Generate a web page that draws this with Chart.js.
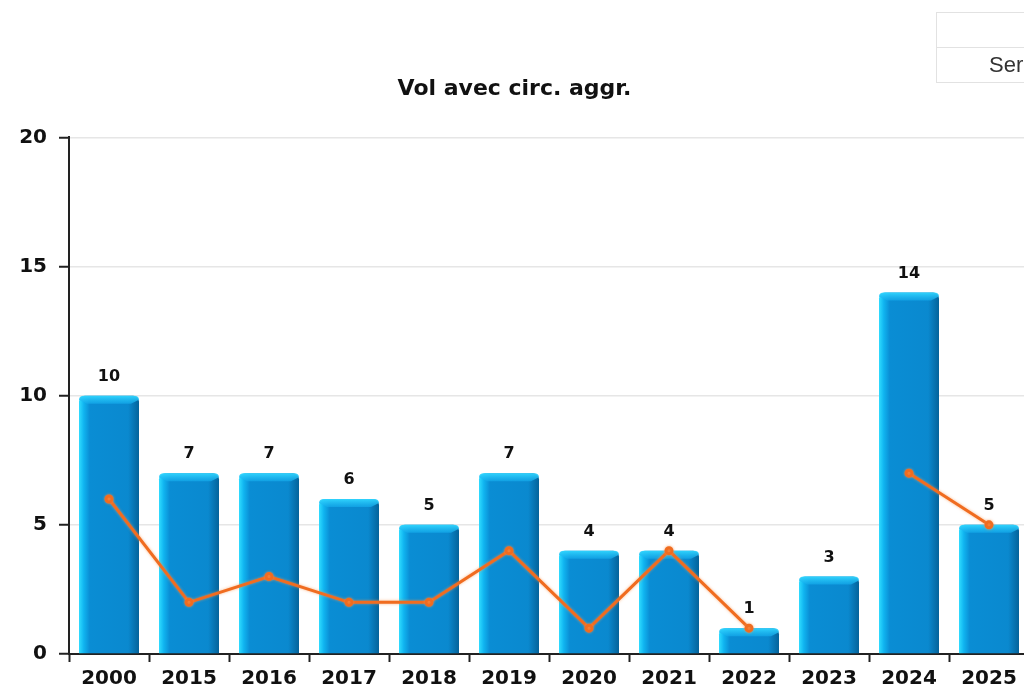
<!DOCTYPE html>
<html>
<head>
<meta charset="utf-8">
<script src="https://cdn.jsdelivr.net/npm/chart.js@4.4.1/dist/chart.umd.min.js"></script>
<style>
  body { margin:0; overflow:hidden; background:#fff; width:1024px; height:690px; }
  #wrap { position:absolute; left:0; top:0; width:1040px; height:700px; }
  #legende { position:absolute; left:936px; top:12px; width:200px; border:1px solid #e2e2e2; font-family:"Liberation Sans", Arial, sans-serif; font-size:22px; color:#333; }
  #legende div { height:34px; }
  #legende .serie { border-top:1px solid #e2e2e2; line-height:34px; padding-left:52px; }
</style>
</head>
<body>
<div id="wrap"><canvas id="graphVol"></canvas></div>
<div id="legende"><div></div><div class="serie">Series</div></div>
<script>
// ---- donnees
const annees = ["2000","2015","2016","2017","2018","2019","2020","2021","2022","2023","2024","2025"];
const totalVols = [10,7,7,6,5,7,4,4,1,3,14,5];
const volsAggr = [6,2,3,2,2,4,1,4,1,null,7,5];
const ticksY = [0,5,10,15,20];

const police = "'DejaVu Sans', sans-serif";

// degrade horizontal par barre
function degradeBarre(ctx) {
    const chart = ctx.chart;
    const area = chart.chartArea;
    if (!area) return "#0a8fd6";
    const x = chart.scales.x.getPixelForValue(ctx.dataIndex);
    const w = (area.right - area.left) / annees.length * 0.75;
    const g = chart.ctx.createLinearGradient(x - w/2, 0, x + w/2, 0);
    g.addColorStop(0, "#30dcff");
    g.addColorStop(0.08, "#10b4f0");
    g.addColorStop(0.18, "#0a8dd4");
    g.addColorStop(0.82, "#0a89cf");
    g.addColorStop(1, "#04639a");
    return g;
}

// biseau en haut des barres + etiquettes
const pluginBarres = {
    id: "barres",
    afterDatasetDraw(chart, args) {
        if (args.index !== 0) return;
        const ctx = chart.ctx;
        args.meta.data.forEach(function(el) {
            const l = el.x - el.width/2, r = el.x + el.width/2, t = el.y;
            const b = Math.min(8, (el.base - el.y) / 2);
            ctx.save();
            ctx.beginPath();
            ctx.moveTo(l + 5, t);
            ctx.lineTo(r - 5, t);
            ctx.quadraticCurveTo(r, t, r, t + 4);
            ctx.lineTo(r - 8, t + b);
            ctx.lineTo(l + 8, t + b);
            ctx.lineTo(l, t + 4);
            ctx.quadraticCurveTo(l, t, l + 5, t);
            ctx.closePath();
            const g = ctx.createLinearGradient(0, t, 0, t + b);
            g.addColorStop(0, "rgba(50,215,255,0.95)");
            g.addColorStop(1, "rgba(20,170,235,0.7)");
            ctx.fillStyle = g;
            ctx.fill();
            ctx.restore();
        });
    },
    beforeDatasetDraw(chart, args) {
        if (args.index !== 1) return;
        chart.ctx.save();
        chart.ctx.shadowColor = "rgba(250,150,80,0.7)";
        chart.ctx.shadowBlur = 3;
    },
    afterDatasetsDraw(chart) {
        const ctx = chart.ctx;
        ctx.restore();
        ctx.save();
        ctx.font = "bold 16px " + police;
        ctx.fillStyle = "#111";
        ctx.textAlign = "center";
        ctx.textBaseline = "middle";
        chart.getDatasetMeta(0).data.forEach(function(el, i) {
            ctx.fillText(totalVols[i], el.x, el.y - 19);
        });
        ctx.restore();
    }
};

new Chart(document.getElementById("graphVol"), {
    data: {
        labels: annees,
        datasets: [{
            type: "bar",
            label: "Vols",
            data: totalVols,
            backgroundColor: degradeBarre,
            borderRadius: {topLeft: 6, topRight: 6},
            borderSkipped: "bottom",
            categoryPercentage: 1,
            barPercentage: 0.75,
            order: 1
        }, {
            type: "line",
            label: "Circ. aggr.",
            data: volsAggr,
            borderColor: "#f06c20",
            backgroundColor: "#f06c20",
            borderWidth: 3,
            pointRadius: 3,
            pointHoverRadius: 3,
            spanGaps: false,
            tension: 0,
            order: 0
        }]
    },
    options: {
        responsive: true,
        maintainAspectRatio: false,
        animation: false,
        layout: { padding: { top: 76, right: 11, left: 0, bottom: 0 } },
        plugins: {
            legend: { display: false },
            tooltip: { enabled: false },
            title: {
                display: true,
                text: "Vol avec circ. aggr.",
                color: "#111",
                font: { family: police, size: 22, weight: "bold" },
                padding: { top: 0, bottom: 35 }
            }
        },
        scales: {
            x: {
                offset: true,
                grid: { offset: true, drawOnChartArea: false, tickColor: "#222", tickLength: 8, tickWidth: 2 },
                border: { color: "#222", width: 2 },
                ticks: { color: "#111", font: { family: police, size: 20, weight: "bold" }, padding: 5, maxRotation: 0 },
                afterFit(s) { s.height = 46; }
            },
            y: {
                min: 0,
                max: 20,
                afterBuildTicks(s) { s.ticks = ticksY.map(v => ({ value: v })); },
                grid: { color: "#e6e6e6", lineWidth: 1.5, tickColor: "#222", tickLength: 10, tickWidth: 2 },
                border: { color: "#222", width: 2 },
                ticks: { color: "#111", font: { family: police, size: 20, weight: "bold" }, padding: 12 },
                afterFit(s) { s.width = 69; }
            }
        }
    },
    plugins: [pluginBarres]
});
</script>
</body>
</html>
